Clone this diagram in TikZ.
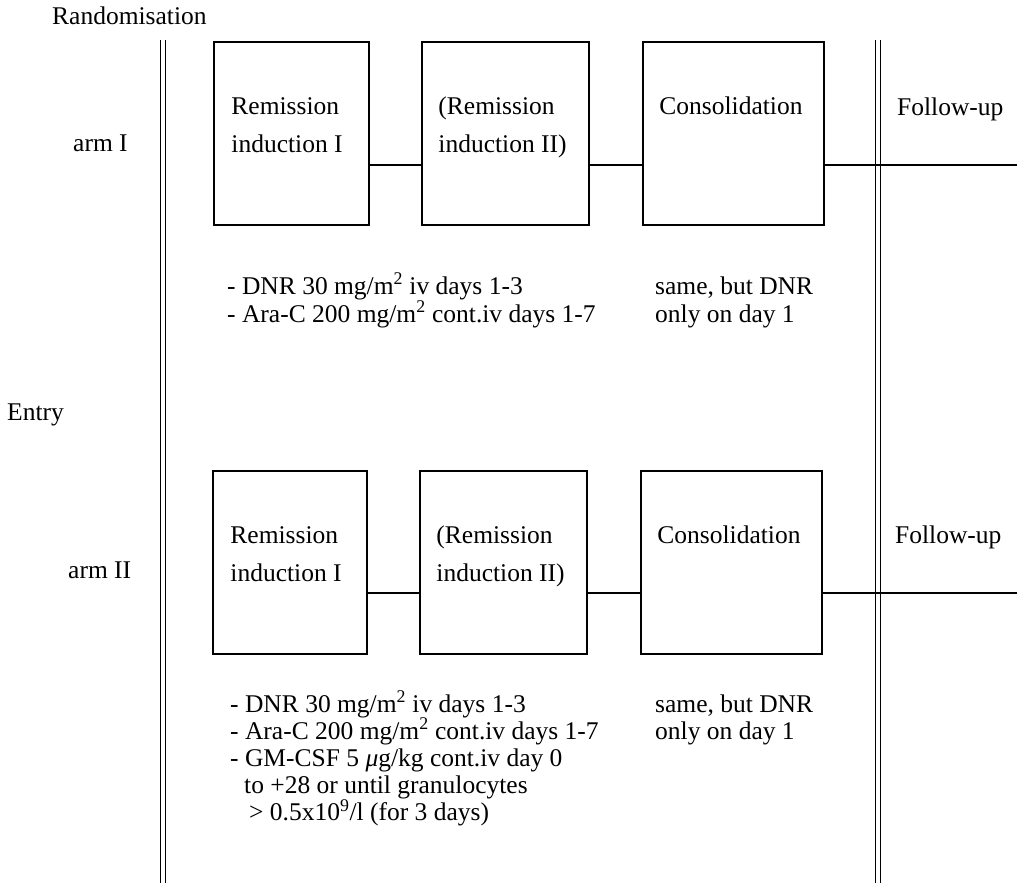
\documentclass[tikz,border=0pt]{standalone}
\usepackage{fontspec}
\setmainfont{Liberation Serif}
\usetikzlibrary{calc}
\tikzset{
  box/.style={draw, line width=1.5pt, inner sep=0pt, minimum width=#1},
  box/.default=160pt,
  txt/.style={anchor=base west, inner sep=0pt, font=\fontsize{25.5}{30}\selectfont},
  link/.style={line width=1.4pt},
  rule/.style={line width=1.2pt}
}
\begin{document}
\begin{tikzpicture}[x=1pt, y=-1pt]
\useasboundingbox (0,0) rectangle (1017,883);

% phase boundaries (double rules)
\draw[rule] (160.5,40) -- (160.5,883);
\draw[rule] (165.5,40) -- (165.5,883);
\draw[rule] (875.5,40) -- (875.5,883);
\draw[rule] (880.5,40) -- (880.5,883);

% left-hand labels
\node[txt] (rand) at (52,25) {Randomisation};
\node[txt] (armI) at (73,151) {arm I};
\node[txt] (entry) at (7,420) {Entry};
\node[txt] (armII) at (68,578) {arm II};

% ---------- arm I ----------
\node[box=155pt, minimum height=183pt] (a1) at (291.5,133.5) {};
\node[box=167pt, minimum height=183pt] (a2) at (505.5,133.5) {};
\node[box=181pt, minimum height=183pt] (a3) at (733.5,133.5) {};
\coordinate (ra) at (0,165);
\coordinate (ea) at (1017,165);
\draw[link] (a1.east |- ra) -- (a2.west |- ra);
\draw[link] (a2.east |- ra) -- (a3.west |- ra);
\draw[link] (a3.east |- ra) -- (ea);

\node[txt] (a1t1) at ($(a1.north west)+(18,73)$) {Remission};
\node[txt] (a1t2) at ($(a1.north west)+(18,111)$) {induction I};
\node[txt] (a2t1) at ($(a2.north west)+(17,73)$) {(Remission};
\node[txt] (a2t2) at ($(a2.north west)+(17,111)$) {induction II)};
\node[txt] (a3t1) at ($(a3.north west)+(17,73)$) {Consolidation};
\node[txt] (afu) at (897,115) {Follow-up};

\node[txt] (ad1) at (227,294) {- DNR 30 mg/m\textsuperscript{2} iv days 1-3};
\node[txt] (ad2) at (227,322) {- Ara-C 200 mg/m\textsuperscript{2} cont.iv days 1-7};
\node[txt] (as1) at (655,294) {same, but DNR};
\node[txt] (as2) at (655,322) {only on day 1};

% ---------- arm II ----------
\node[box=154pt, minimum height=183pt] (b1) at (290,562.5) {};
\node[box=167pt, minimum height=183pt] (b2) at (503.5,562.5) {};
\node[box=181pt, minimum height=183pt] (b3) at (731.5,562.5) {};
\coordinate (rb) at (0,593);
\coordinate (eb) at (1017,593);
\draw[link] (b1.east |- rb) -- (b2.west |- rb);
\draw[link] (b2.east |- rb) -- (b3.west |- rb);
\draw[link] (b3.east |- rb) -- (eb);

\node[txt] (b1t1) at ($(b1.north west)+(18,73)$) {Remission};
\node[txt] (b1t2) at ($(b1.north west)+(18,111)$) {induction I};
\node[txt] (b2t1) at ($(b2.north west)+(17,73)$) {(Remission};
\node[txt] (b2t2) at ($(b2.north west)+(17,111)$) {induction II)};
\node[txt] (b3t1) at ($(b3.north west)+(17,73)$) {Consolidation};
\node[txt] (bfu) at (895,543) {Follow-up};

\node[txt] (bd1) at (230,712) {- DNR 30 mg/m\textsuperscript{2} iv days 1-3};
\node[txt] (bd2) at (230,739) {- Ara-C 200 mg/m\textsuperscript{2} cont.iv days 1-7};
\node[txt] (bd3) at (230,766) {- GM-CSF 5 \textit{μ}g/kg cont.iv day 0};
\node[txt] (bd4) at (244,793.5) {to +28 or until granulocytes};
\node[txt] (bd5) at (249,820.5) {> 0.5x10\textsuperscript{9}/l (for 3 days)};
\node[txt] (bs1) at (655,712) {same, but DNR};
\node[txt] (bs2) at (655,739) {only on day 1};
\end{tikzpicture}
\end{document}
